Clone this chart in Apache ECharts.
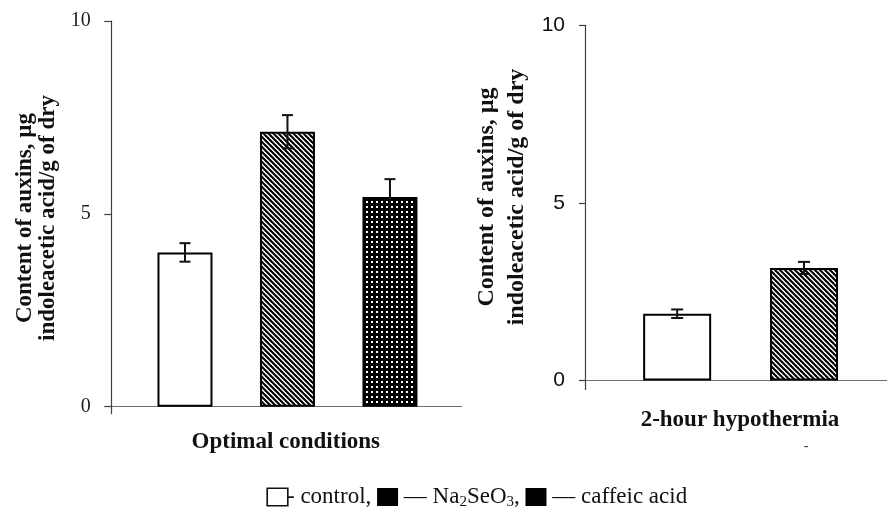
<!DOCTYPE html>
<html>
<head>
<meta charset="utf-8">
<script src="https://cdn.jsdelivr.net/npm/echarts@6/dist/echarts.min.js"></script>
<style>
html,body{margin:0;padding:0;background:#fff;}
#chart{width:887px;height:513px;}
</style>
</head>
<body>
<div id="chart"></div>
<script>
// ---- data ----
const optCategories = ['control', 'Na2SeO3', 'caffeic acid'];
const optMeans = [4.0, 7.13, 5.44];
const optErrors = [0.24, 0.43, 0.46];
const hypoCategories = ['control', 'Na2SeO3'];
const hypoMeans = [1.88, 3.17];
const hypoErrors = [0.12, 0.17];
const yTickLabels = ['0', '5', '10'];
const optTitle = 'Optimal conditions';
const hypoTitle = '2-hour hypothermia';
const yTitle = 'Content of auxins, µg\nindoleacetic acid/g of dry';

// ---- patterns ----
function stripePattern() {
  const s = 5;
  const c = document.createElement('canvas');
  c.width = s; c.height = s;
  const g = c.getContext('2d');
  g.fillStyle = '#fff'; g.fillRect(0, 0, s, s);
  g.strokeStyle = '#000'; g.lineWidth = 2.1;
  for (let k = -1; k <= 1; k++) {
    g.beginPath();
    g.moveTo(k * s - 1, -1);
    g.lineTo(k * s + s + 1, s + 1);
    g.stroke();
  }
  return { image: c, repeat: 'repeat' };
}
function dotPattern() {
  const s = 5;
  const c = document.createElement('canvas');
  c.width = s; c.height = s;
  const g = c.getContext('2d');
  g.fillStyle = '#000'; g.fillRect(0, 0, s, s);
  g.fillStyle = '#fff'; g.fillRect(1, 1, 2, 2);
  return { image: c, repeat: 'repeat' };
}
const fills = ['#ffffff', stripePattern(), dotPattern()];

const serif = "'Liberation Serif','Times New Roman',serif";
const sans = "'Liberation Sans',Arial,sans-serif";

function barData(means) {
  return means.map((v, i) => ({ value: [i, v], itemStyle: { color: fills[i] } }));
}
function errData(means, errs) {
  return means.map((v, i) => [i, v - errs[i], v + errs[i]]);
}
function errRender(cap) {
  return function (params, api) {
    const x = api.value(0);
    const lo = api.coord([x, api.value(1)]);
    const hi = api.coord([x, api.value(2)]);
    const st = { stroke: '#111', lineWidth: 2 };
    return {
      type: 'group',
      children: [
        { type: 'line', shape: { x1: lo[0], y1: lo[1], x2: hi[0], y2: hi[1] }, style: st },
        { type: 'line', shape: { x1: hi[0] - cap / 2, y1: hi[1], x2: hi[0] + cap / 2, y2: hi[1] }, style: st },
        { type: 'line', shape: { x1: lo[0] - cap / 2, y1: lo[1], x2: lo[0] + cap / 2, y2: lo[1] }, style: st }
      ]
    };
  };
}

const optXMin = -0.715, optXMax = 2.70;
const hypoXMin = -0.7225, hypoXMax = 1.658;

const chart = echarts.init(document.getElementById('chart'), null, { renderer: 'canvas' });
chart.setOption({
  animation: false,
  backgroundColor: '#fff',
  grid: [
    { left: 111.7, top: 21, width: 350, height: 385.7, containLabel: false, outerBoundsMode: 'none' },
    { left: 585.5, top: 25.3, width: 302, height: 355.2, containLabel: false, outerBoundsMode: 'none' }
  ],
  xAxis: [
    {
      gridIndex: 0, type: 'value', min: optXMin, max: optXMax,
      axisLine: { show: true, onZero: false, lineStyle: { color: '#707070', width: 1.2 } },
      axisTick: { show: true, length: 7.5, customValues: [optXMin], lineStyle: { color: '#404040', width: 1.2 } },
      axisLabel: { show: false }, splitLine: { show: false }
    },
    {
      gridIndex: 1, type: 'value', min: hypoXMin, max: hypoXMax,
      axisLine: { show: true, onZero: false, lineStyle: { color: '#707070', width: 1.2 } },
      axisTick: { show: true, length: 9.5, customValues: [hypoXMin], lineStyle: { color: '#404040', width: 1.2 } },
      axisLabel: { show: false }, splitLine: { show: false }
    }
  ],
  yAxis: [
    {
      gridIndex: 0, type: 'value', min: 0, max: 10, interval: 5,
      axisLine: { show: true, onZero: false, lineStyle: { color: '#404040', width: 1.2 } },
      axisTick: { show: true, length: 7.5, lineStyle: { color: '#404040', width: 1.2 } },
      axisLabel: { margin: 21, color: '#222', fontFamily: serif, fontSize: 20,
        formatter: v => yTickLabels[Math.round(v / 5)] },
      splitLine: { show: false }
    },
    {
      gridIndex: 1, type: 'value', min: 0, max: 10, interval: 5,
      axisLine: { show: true, onZero: false, lineStyle: { color: '#404040', width: 1.2 } },
      axisTick: { show: true, length: 6.5, lineStyle: { color: '#404040', width: 1.2 } },
      axisLabel: { margin: 20.5, color: '#111', fontFamily: sans, fontSize: 21,
        formatter: v => yTickLabels[Math.round(v / 5)] },
      splitLine: { show: false }
    }
  ],
  series: [
    {
      type: 'bar', name: optTitle, xAxisIndex: 0, yAxisIndex: 0, barWidth: 55,
      itemStyle: { borderColor: '#000', borderWidth: 2 },
      data: barData(optMeans), z: 2
    },
    {
      type: 'custom', xAxisIndex: 0, yAxisIndex: 0, renderItem: errRender(11),
      encode: { x: 0, y: [1, 2] }, data: errData(optMeans, optErrors), z: 5
    },
    {
      type: 'bar', name: hypoTitle, xAxisIndex: 1, yAxisIndex: 1, barWidth: 68,
      itemStyle: { borderColor: '#000', borderWidth: 2 },
      data: barData(hypoMeans), z: 2
    },
    {
      type: 'custom', xAxisIndex: 1, yAxisIndex: 1, renderItem: errRender(12),
      encode: { x: 0, y: [1, 2] }, data: errData(hypoMeans, hypoErrors), z: 5
    }
  ],
  graphic: [
    {
      type: 'text', x: 36.5, y: 218, rotation: Math.PI / 2,
      style: { text: yTitle, fontFamily: serif, fontWeight: 'bold', fontSize: 23, lineHeight: 23,
        fill: '#111', align: 'center', verticalAlign: 'middle' }
    },
    {
      type: 'text', x: 502, y: 197, rotation: Math.PI / 2,
      style: { text: yTitle, fontFamily: serif, fontWeight: 'bold', fontSize: 24, lineHeight: 30,
        fill: '#111', align: 'center', verticalAlign: 'middle' }
    },
    {
      type: 'text', x: 285.8, y: 442,
      style: { text: optTitle, fontFamily: serif, fontWeight: 'bold', fontSize: 23,
        fill: '#111', align: 'center', verticalAlign: 'middle' }
    },
    {
      type: 'text', x: 740, y: 420,
      style: { text: hypoTitle, fontFamily: serif, fontWeight: 'bold', fontSize: 23,
        fill: '#111', align: 'center', verticalAlign: 'middle' }
    },
    {
      type: 'text', x: 806, y: 446,
      style: { text: '-', fontFamily: serif, fontSize: 14, fill: '#333', align: 'center', verticalAlign: 'middle' }
    },
    {
      type: 'text', x: 268, y: 497,
      style: {
        text: '{box|}{t|- control, }{fill|}{t| — Na}{sub|2}{t|SeO}{sub|3}{t|, }{fill|}{t| — caffeic acid}',
        align: 'left', verticalAlign: 'middle', fontFamily: serif, fontSize: 23, fill: '#111',
        rich: {
          t: { fontFamily: serif, fontSize: 23, lineHeight: 25, fill: '#111' },
          sub: { fontFamily: serif, fontSize: 15, lineHeight: 15, verticalAlign: 'bottom', fill: '#111' },
          box: { width: 19, height: 16, borderColor: '#111', borderWidth: 1.6, backgroundColor: '#fff' },
          fill: { width: 21, height: 18, backgroundColor: '#000' }
        }
      }
    }
  ]
});
</script>
</body>
</html>
